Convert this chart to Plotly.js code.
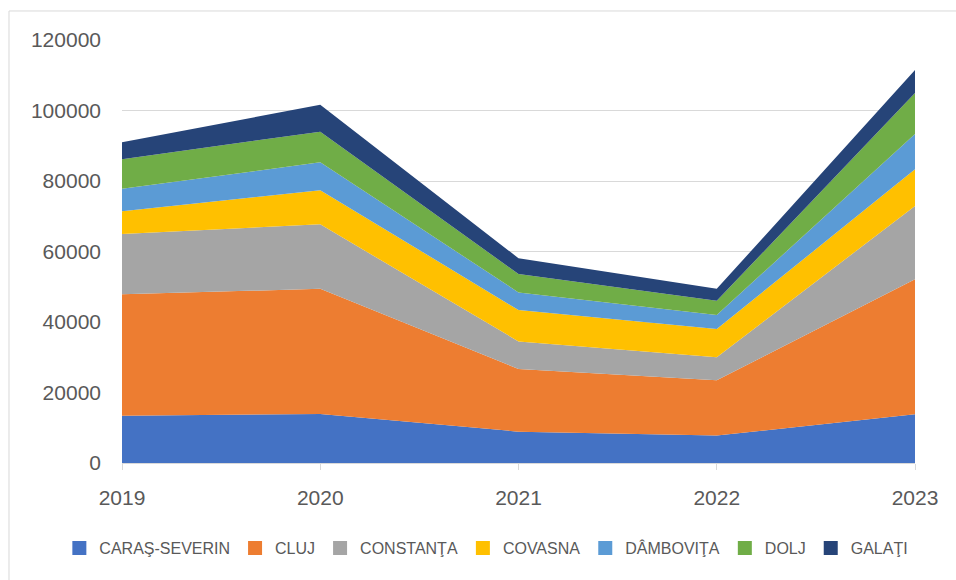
<!DOCTYPE html>
<html>
<head>
<meta charset="utf-8">
<script src="https://cdn.plot.ly/plotly-3.0.1.min.js"></script>
<style>
  html, body { margin: 0; padding: 0; background: #ffffff; }
  #chart { width: 956px; height: 580px; }
</style>
</head>
<body>
<div id="chart"></div>
<script>
const years = ["2019", "2020", "2021", "2022", "2023"];
const seriesNames = ["CARAŞ-SEVERIN", "CLUJ", "CONSTANŢA", "COVASNA", "DÂMBOVIŢA", "DOLJ", "GALAŢI"];
const carasSeverin = [13400, 13900, 8900, 7800, 13800];
const cluj        = [34500, 35500, 17800, 15700, 38300];
const constanta   = [17100, 18300, 7800, 6500, 20800];
const covasna     = [6400, 9700, 8900, 8000, 10400];
const dambovita   = [6400, 7900, 5000, 4000, 10000];
const dolj        = [8400, 8700, 5200, 4000, 11700];
const galati      = [4800, 7600, 4500, 3400, 6500];
const yTicks = [0, 20000, 40000, 60000, 80000, 100000, 120000];

const seriesValues = [carasSeverin, cluj, constanta, covasna, dambovita, dolj, galati];
const colors = ["#4472C4", "#ED7D31", "#A5A5A5", "#FFC000", "#5B9BD5", "#70AD47", "#264478"];

const traces = [];
seriesValues.forEach((vals, i) => {
  traces.push({
    type: "scatter",
    mode: "lines",
    x: years,
    y: vals,
    name: seriesNames[i],
    stackgroup: "one",
    line: { width: 0, color: colors[i] },
    fillcolor: colors[i],
    showlegend: false,
    hoverinfo: "x+y+name"
  });
});
seriesNames.forEach((n, i) => {
  traces.push({
    type: "scatter",
    mode: "markers",
    x: [null],
    y: [null],
    name: n,
    marker: { symbol: "square", size: 14, color: colors[i] },
    showlegend: true,
    hoverinfo: "skip"
  });
});

const layout = {
  width: 956,
  height: 580,
  margin: { l: 122, r: 41, t: 40, b: 117, pad: 0 },
  paper_bgcolor: "#ffffff",
  plot_bgcolor: "#ffffff",
  font: { family: "Liberation Sans, Arial, sans-serif", color: "#595959" },
  showlegend: true,
  xaxis: {
    type: "category",
    range: [0, 4],
    showgrid: false,
    zeroline: false,
    showline: true,
    linecolor: "#d9d9d9",
    linewidth: 1,
    ticks: "outside",
    ticklen: 6,
    tickcolor: "#d9d9d9",
    tickfont: { size: 21, color: "#595959" },
    ticklabelstandoff: 10,
    fixedrange: true
  },
  yaxis: {
    range: [0, 120000],
    tickvals: yTicks,
    ticktext: yTicks.map(String),
    showgrid: true,
    gridcolor: "#d9d9d9",
    gridwidth: 1,
    zeroline: false,
    showline: false,
    ticks: "",
    tickfont: { size: 21, color: "#595959" },
    ticklabelstandoff: 20,
    fixedrange: true
  },
  legend: {
    orientation: "h",
    xref: "paper",
    yref: "paper",
    x: -0.079,
    xanchor: "left",
    y: -0.201,
    yanchor: "middle",
    traceorder: "normal",
    itemwidth: 30,
    font: { size: 16, color: "#595959" },
    itemclick: false,
    itemdoubleclick: false
  },
  shapes: [{
    type: "rect",
    xref: "paper",
    yref: "paper",
    x0: -0.1425,
    x1: 1.2,
    y0: -0.4,
    y1: 1.0686,
    line: { color: "#d9d9d9", width: 1 },
    fillcolor: "rgba(0,0,0,0)",
    layer: "below"
  }]
};

Plotly.newPlot("chart", traces, layout, { displayModeBar: false, staticPlot: true });
</script>
</body>
</html>
